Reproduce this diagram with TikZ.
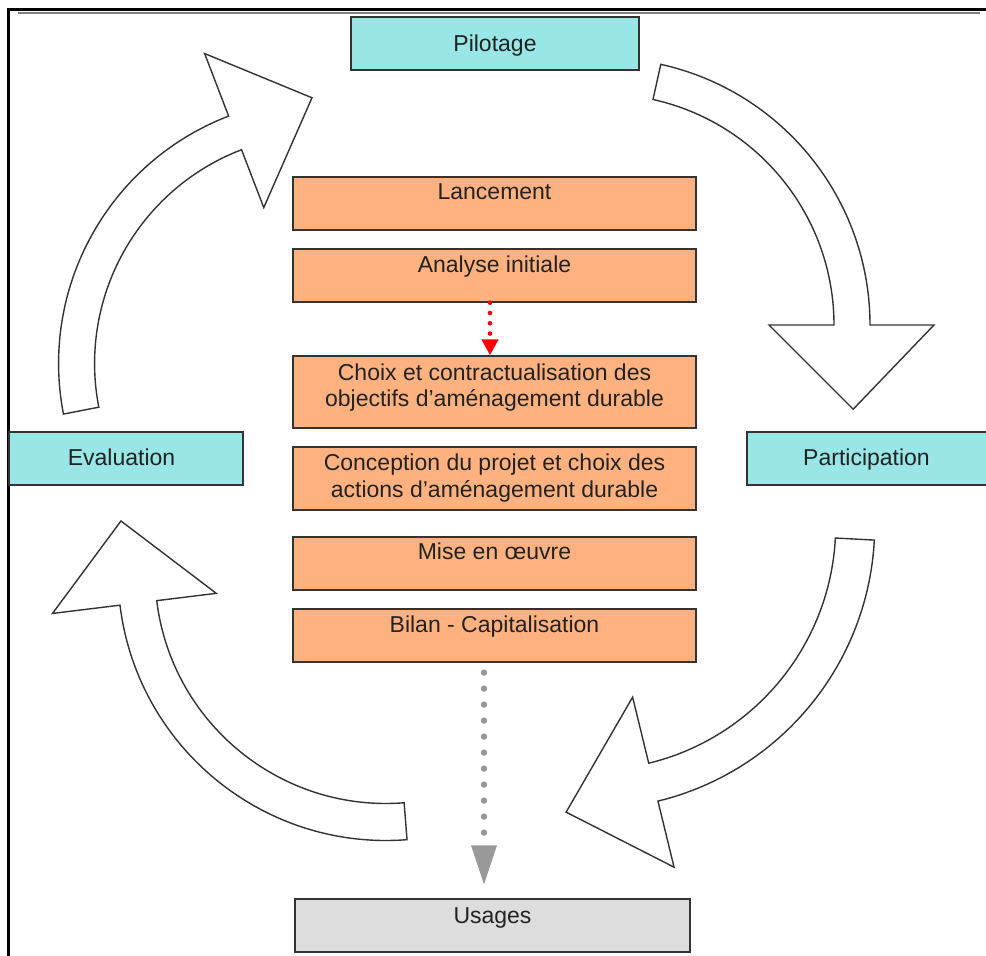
\documentclass[tikz,border=0pt]{standalone}
\usepackage{fontspec}
\setmainfont{Liberation Sans}
\usetikzlibrary{arrows.meta}
\definecolor{boxorange}{RGB}{255,178,128}
\definecolor{boxteal}{RGB}{153,230,230}
\definecolor{boxgrey}{RGB}{221,221,221}
\definecolor{edgegrey}{RGB}{51,51,51}
\definecolor{dotgrey}{RGB}{153,153,153}
\definecolor{inkgrey}{RGB}{34,34,34}
\begin{document}
\begin{tikzpicture}[x=1pt,y=-1pt,
  panel/.style={draw=edgegrey, line width=1.3pt, inner sep=0pt},
  obox/.style={panel, fill=boxorange, minimum width=403pt, minimum height=53pt},
  tbox/.style={panel, fill=boxteal, minimum height=53pt},
  gbox/.style={panel, fill=boxgrey, minimum width=395pt, minimum height=53pt},
  lbl/.style={anchor=base, inner sep=0pt, text=inkgrey, font=\fontsize{23}{26}\selectfont},
  blockarrow/.style={draw=edgegrey, line width=1.4pt, fill=white, line join=miter},
  reddots/.style={red, line width=4.6pt, line cap=round, dash pattern=on 0pt off 10.3pt,
    -{Triangle[width=16pt,length=16pt]}},
  greydots/.style={dotgrey, line width=6.5pt, line cap=round, dash pattern=on 0pt off 16pt,
    -{Triangle[width=24pt,length=40pt]}}]
\useasboundingbox (0,0) rectangle (986,956);
\clip (0,0) rectangle (986,956);

% page frame
\draw[line width=1.6pt, gray] (18,12.8) -- (980,12.8);
\draw[line width=3pt, black] (8.5,956) -- (8.5,9.5) -- (986,9.5);

% curved block arrows around the cycle
\begin{scope}[shift={(603,325)}]
  \draw[blockarrow] (-77.5:267) arc[start angle=-77.5, end angle=0, radius=267]
    -- (0:331) -- (18.6:264) -- (0:166) -- (0:231)
    arc[start angle=0, end angle=-77.5, radius=231] -- cycle;
\end{scope}
\begin{scope}[shift={(323.6,363.5)}]
  \draw[blockarrow] (169:265) arc[start angle=169, end angle=249, radius=265]
    -- (249:332) -- (267.5:266) -- (249:167) -- (249:229)
    arc[start angle=249, end angle=169, radius=229] -- cycle;
\end{scope}
\begin{scope}[shift={(386,572.5)}]
  \draw[blockarrow] (85.5:268) arc[start angle=85.5, end angle=173, radius=268]
    -- (173:336) -- (191:270) -- (173:171) -- (173:231)
    arc[start angle=173, end angle=85.5, radius=231] -- cycle;
\end{scope}
\begin{scope}[shift={(590.7,525.2)}]
  \draw[blockarrow] (3:284) arc[start angle=3, end angle=76.3, radius=284]
    -- (76.3:352) -- (94.9:288) -- (76.3:177) -- (76.3:245)
    arc[start angle=76.3, end angle=3, radius=245] -- cycle;
\end{scope}

% stages
\node[tbox, minimum width=288pt] (pil) at (495,43.5) {};
\node[lbl] (pil-t) at (495,51) {Pilotage};

\node[tbox, minimum width=234pt] (eva) at (126,458.5) {};
\node[lbl] (eva-t) at (121.5,465) {Evaluation};

\node[tbox, minimum width=241pt] (par) at (867.5,458.5) {};
\node[lbl] (par-t) at (866.5,465) {Participation};

\node[obox] (lan) at (494.5,203.5) {};
\node[lbl] (lan-t) at (494.5,199) {Lancement};

\node[obox] (ana) at (494.5,275.5) {};
\node[lbl] (ana-t) at (494.5,272) {Analyse initiale};

\node[obox, minimum height=72pt] (cho) at (494.5,392) {};
\node[lbl] (cho-t1) at (494.5,380) {Choix et contractualisation des};
\node[lbl] (cho-t2) at (494.5,406) {objectifs d'aménagement durable};

\node[obox, minimum height=63pt] (con) at (494.5,478.5) {};
\node[lbl] (con-t1) at (494.5,470) {Conception du projet et choix des};
\node[lbl] (con-t2) at (494.5,497) {actions d'aménagement durable};

\node[obox] (mis) at (494.5,563.5) {};
\node[lbl] (mis-t) at (494.5,559) {Mise en œuvre};

\node[obox] (bil) at (494.5,635.5) {};
\node[lbl] (bil-t) at (494.5,632) {Bilan - Capitalisation};

\node[gbox] (usa) at (492.5,925.5) {};
\node[lbl] (usa-t) at (492.5,923) {Usages};

% dotted links
\draw[reddots] ([xshift=-4.5pt]ana.south) -- ([xshift=-4.5pt]cho.north);
\draw[greydots] ([xshift=-10.5pt,yshift=-10pt]bil.south) -- ([xshift=-8.5pt,yshift=13pt]usa.north);
\end{tikzpicture}
\end{document}
